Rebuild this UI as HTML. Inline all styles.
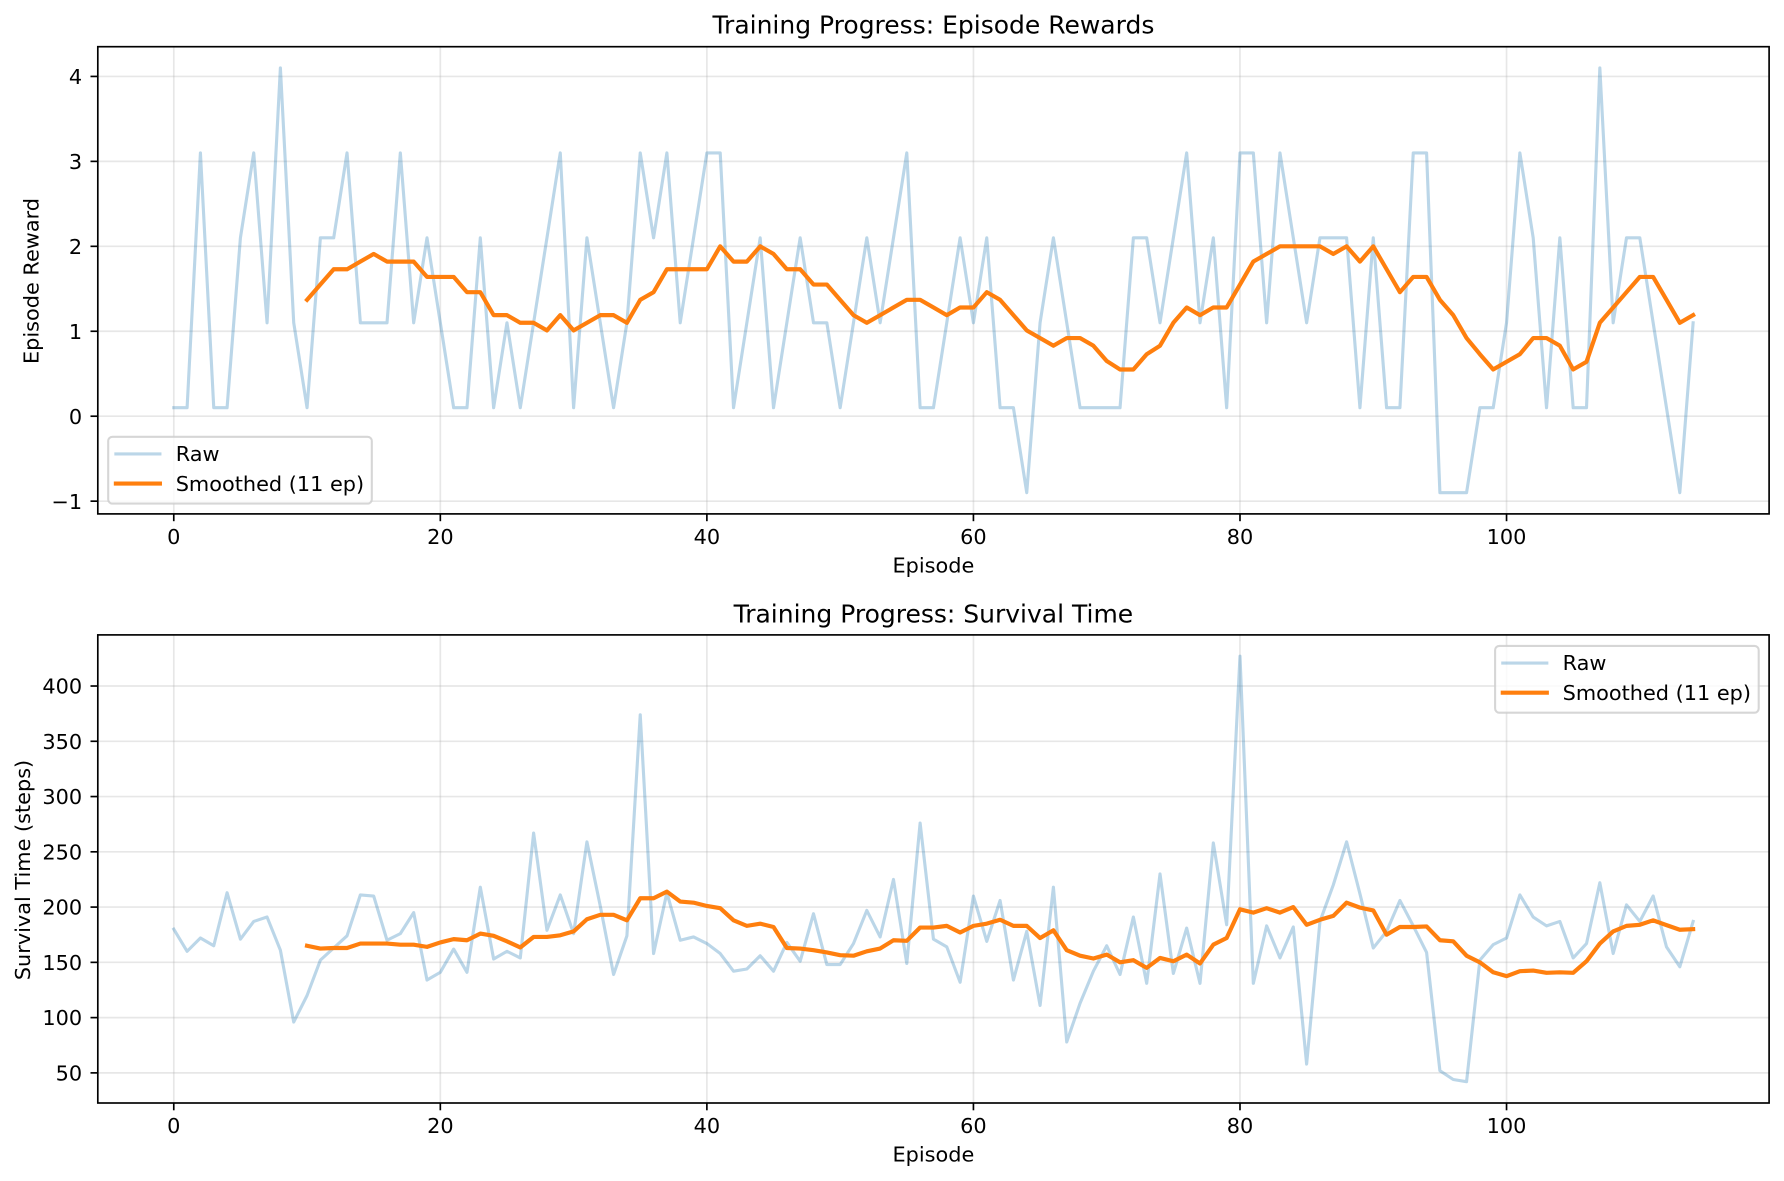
<!DOCTYPE html>
<html lang="en">
<head>
<meta charset="utf-8">
<title>Training Progress</title>
<style>
html,body{margin:0;padding:0;background:#fff;width:1784px;height:1181px;overflow:hidden}
svg{display:block;font-family:"DejaVu Sans","Liberation Sans",sans-serif;fill:#000}
</style>
</head>
<body>
<svg id="chart" xmlns="http://www.w3.org/2000/svg" width="1784" height="1181" viewBox="0 0 1784 1181">
  <rect x="0" y="0" width="1784" height="1181" fill="#fff"/>
  <text x="933.4" y="33.5" font-size="25" text-anchor="middle">Training Progress: Episode Rewards</text>
  <text x="933.4" y="572.5" font-size="20.83" text-anchor="middle">Episode</text>
  <text transform="translate(38.5,281) rotate(-90)" font-size="20.83" text-anchor="middle">Episode Reward</text>
  <text x="933.4" y="622.5" font-size="25" text-anchor="middle">Training Progress: Survival Time</text>
  <text x="933.4" y="1161.5" font-size="20.83" text-anchor="middle">Episode</text>
  <text transform="translate(30,870) rotate(-90)" font-size="20.83" text-anchor="middle">Survival Time (steps)</text>
  <g id="rewards-panel"></g>
  <g id="survival-panel"></g>
</svg>
<script>
const xTicks = [0, 20, 40, 60, 80, 100];
const legendLabels = ['Raw', 'Smoothed (11 ep)'];
const smoothedStartEpisode = 10;

const rewardTicks = [-1, 0, 1, 2, 3, 4];
const rewardRaw = [
  0.1,0.1,3.1,0.1,0.1,2.1,3.1,1.1,4.1,1.1,
  0.1,2.1,2.1,3.1,1.1,1.1,1.1,3.1,1.1,2.1,
  1.1,0.1,0.1,2.1,0.1,1.1,0.1,1.1,2.1,3.1,
  0.1,2.1,1.1,0.1,1.1,3.1,2.1,3.1,1.1,2.1,
  3.1,3.1,0.1,1.1,2.1,0.1,1.1,2.1,1.1,1.1,
  0.1,1.1,2.1,1.1,2.1,3.1,0.1,0.1,1.1,2.1,
  1.1,2.1,0.1,0.1,-0.9,1.1,2.1,1.1,0.1,0.1,
  0.1,0.1,2.1,2.1,1.1,2.1,3.1,1.1,2.1,0.1,
  3.1,3.1,1.1,3.1,2.1,1.1,2.1,2.1,2.1,0.1,
  2.1,0.1,0.1,3.1,3.1,-0.9,-0.9,-0.9,0.1,0.1,
  1.1,3.1,2.1,0.1,2.1,0.1,0.1,4.1,1.1,2.1,
  2.1,1.1,0.1,-0.9,1.1
];
const rewardSmoothed = [
  1.37,1.55,1.73,1.73,1.82,1.91,1.82,1.82,1.82,1.64,
  1.64,1.64,1.46,1.46,1.19,1.19,1.10,1.10,1.01,1.19,
  1.01,1.10,1.19,1.19,1.10,1.37,1.46,1.73,1.73,1.73,
  1.73,2.00,1.82,1.82,2.00,1.91,1.73,1.73,1.55,1.55,
  1.37,1.19,1.10,1.19,1.28,1.37,1.37,1.28,1.19,1.28,
  1.28,1.46,1.37,1.19,1.01,0.92,0.83,0.92,0.92,0.83,
  0.65,0.55,0.55,0.73,0.83,1.10,1.28,1.19,1.28,1.28,
  1.55,1.82,1.91,2.00,2.00,2.00,2.00,1.91,2.00,1.82,
  2.00,1.73,1.46,1.64,1.64,1.37,1.19,0.92,0.73,0.55,
  0.64,0.73,0.92,0.92,0.83,0.55,0.64,1.10,1.28,1.46,
  1.64,1.64,1.37,1.10,1.19
];

const survivalTicks = [50, 100, 150, 200, 250, 300, 350, 400];
const survivalRaw = [
  180,160,172,165,213,171,187,191,161,96,
  120,152,163,174,211,210,170,176,195,134,
  141,162,141,218,153,160,154,267,179,211,
  176,259,201,139,174,374,158,213,170,173,
  167,158,142,144,156,142,168,151,194,148,
  148,167,197,173,225,149,276,171,164,132,
  210,169,206,134,178,111,218,78,113,142,
  165,139,191,131,230,140,181,131,258,184,
  427,131,183,154,182,58,187,220,259,212,
  163,178,206,183,159,52,44,42,152,166,
  172,211,191,183,187,154,167,222,158,202,
  187,210,164,146,187
];
const survivalSmoothed = [
  165,162.5,163,163,167,167,167,166,166,164,
  168,171,170,176,174,169,163.5,173,173,174.5,
  178,189,193,193,188,208,208,214,205,204,
  201,199,188,183,185,182,163,162.5,161,159,
  156.5,156,160,162.5,170,169.5,181.5,181.5,183,177,
  183,185,188.5,183,183,172,179,161,156,153.5,
  157,150,152,145,154,151,157,149,166,172,
  198,195,199,195,200,184,188.5,192,204,199.5,
  197,175,182,182,182.5,170,169,156,150,141,
  137.5,142,142.6,140.5,141,140.5,151,167,178,183,
  184,188,183.7,179.5,180
];

const NS = 'http://www.w3.org/2000/svg';
const axLeft = 97.8, axRight = 1769.1, xMin = -5.7, xMax = 119.7;

function mk(parent, tag, attrs) {
  const el = document.createElementNS(NS, tag);
  for (const k in attrs) el.setAttribute(k, attrs[k]);
  parent.appendChild(el);
  return el;
}
function xScale(v) { return axLeft + (v - xMin) / (xMax - xMin) * (axRight - axLeft); }
function makeYScale(top, bottom, yMin, yMax) {
  return function (v) { return bottom - (v - yMin) / (yMax - yMin) * (bottom - top); };
}
function pathFrom(values, startEpisode, y) {
  return values.map(function (v, i) {
    return (i ? 'L' : 'M') + xScale(i + startEpisode).toFixed(2) + ' ' + y(v).toFixed(2);
  }).join('');
}

function drawPanel(root, top, bottom, y, yTicks, raw, smoothed, legendX, legendY) {
  const tickLabelY = bottom + 30;

  yTicks.forEach(function (t) {
    const gy = mk(root, 'line', {x1: axLeft, x2: axRight, y1: y(t), y2: y(t), stroke: '#b0b0b0', 'stroke-width': 1.67, 'stroke-opacity': 0.3});
    
    
  });
  xTicks.forEach(function (t) {
    const gx = mk(root, 'line', {x1: xScale(t), x2: xScale(t), y1: top, y2: bottom, stroke: '#b0b0b0', 'stroke-width': 1.67, 'stroke-opacity': 0.3});
    
    
  });

  const rawLine = mk(root, 'path', {d: pathFrom(raw, 0, y), fill: 'none', stroke: '#1f77b4', 'stroke-opacity': 0.3, 'stroke-width': 3.125, 'stroke-linejoin': 'round', 'stroke-linecap': 'square'});
  
  

  const smoothLine = mk(root, 'path', {d: pathFrom(smoothed, smoothedStartEpisode, y), fill: 'none', stroke: '#ff7f0e', 'stroke-width': 4.17, 'stroke-linejoin': 'round', 'stroke-linecap': 'square'});
  
  

  const frame = mk(root, 'rect', {x: axLeft, y: top, width: axRight - axLeft, height: bottom - top, fill: 'none', stroke: '#000', 'stroke-width': 1.67});
  
  

  xTicks.forEach(function (t) {
    const tick = mk(root, 'line', {x1: xScale(t), x2: xScale(t), y1: bottom, y2: bottom + 7.3, stroke: '#000', 'stroke-width': 1.67});
    
    
    const label = mk(root, 'text', {x: xScale(t), y: tickLabelY, 'font-size': 20.83, 'text-anchor': 'middle'});
    label.textContent = String(t);
    
    
  });
  yTicks.forEach(function (t) {
    const tick = mk(root, 'line', {x1: axLeft - 7.3, x2: axLeft, y1: y(t), y2: y(t), stroke: '#000', 'stroke-width': 1.67});
    
    
    const label = mk(root, 'text', {x: axLeft - 15.6, y: y(t) + 7.6, 'font-size': 20.83, 'text-anchor': 'end'});
    label.textContent = String(t).replace('-', '\u2212');
    
    
  });

  const legend = mk(root, 'g', {transform: 'translate(' + legendX + ',' + legendY + ')'});
  
  
  const box = mk(legend, 'rect', {x: 0, y: 0, width: 263.6, height: 66.8, rx: 4.2, ry: 4.2, fill: '#fff', 'fill-opacity': 0.8, stroke: '#ccc', 'stroke-opacity': 0.8, 'stroke-width': 2.08});
  
  

  const rawKey = mk(legend, 'line', {x1: 7.7, x2: 51.7, y1: 17.2, y2: 17.2, stroke: '#1f77b4', 'stroke-opacity': 0.3, 'stroke-width': 3.125, 'stroke-linecap': 'square'});
  
  
  const rawText = mk(legend, 'text', {x: 67.5, y: 24.3, 'font-size': 20.83});
  rawText.textContent = legendLabels[0];
  
  

  const smoothKey = mk(legend, 'line', {x1: 7.7, x2: 51.7, y1: 46.8, y2: 46.8, stroke: '#ff7f0e', 'stroke-width': 4.17, 'stroke-linecap': 'square'});
  
  
  const smoothText = mk(legend, 'text', {x: 67.5, y: 54.2, 'font-size': 20.83});
  smoothText.textContent = legendLabels[1];
  
  
}

drawPanel(document.getElementById('rewards-panel'), 46.7, 513.9,
  makeYScale(46.7, 513.9, -1.15, 4.35), rewardTicks, rewardRaw, rewardSmoothed, 108.2, 436.8);
drawPanel(document.getElementById('survival-panel'), 634.9, 1103,
  makeYScale(634.9, 1103, 22.75, 446.25), survivalTicks, survivalRaw, survivalSmoothed, 1495.1, 645.9);
</script>
</body>
</html>
